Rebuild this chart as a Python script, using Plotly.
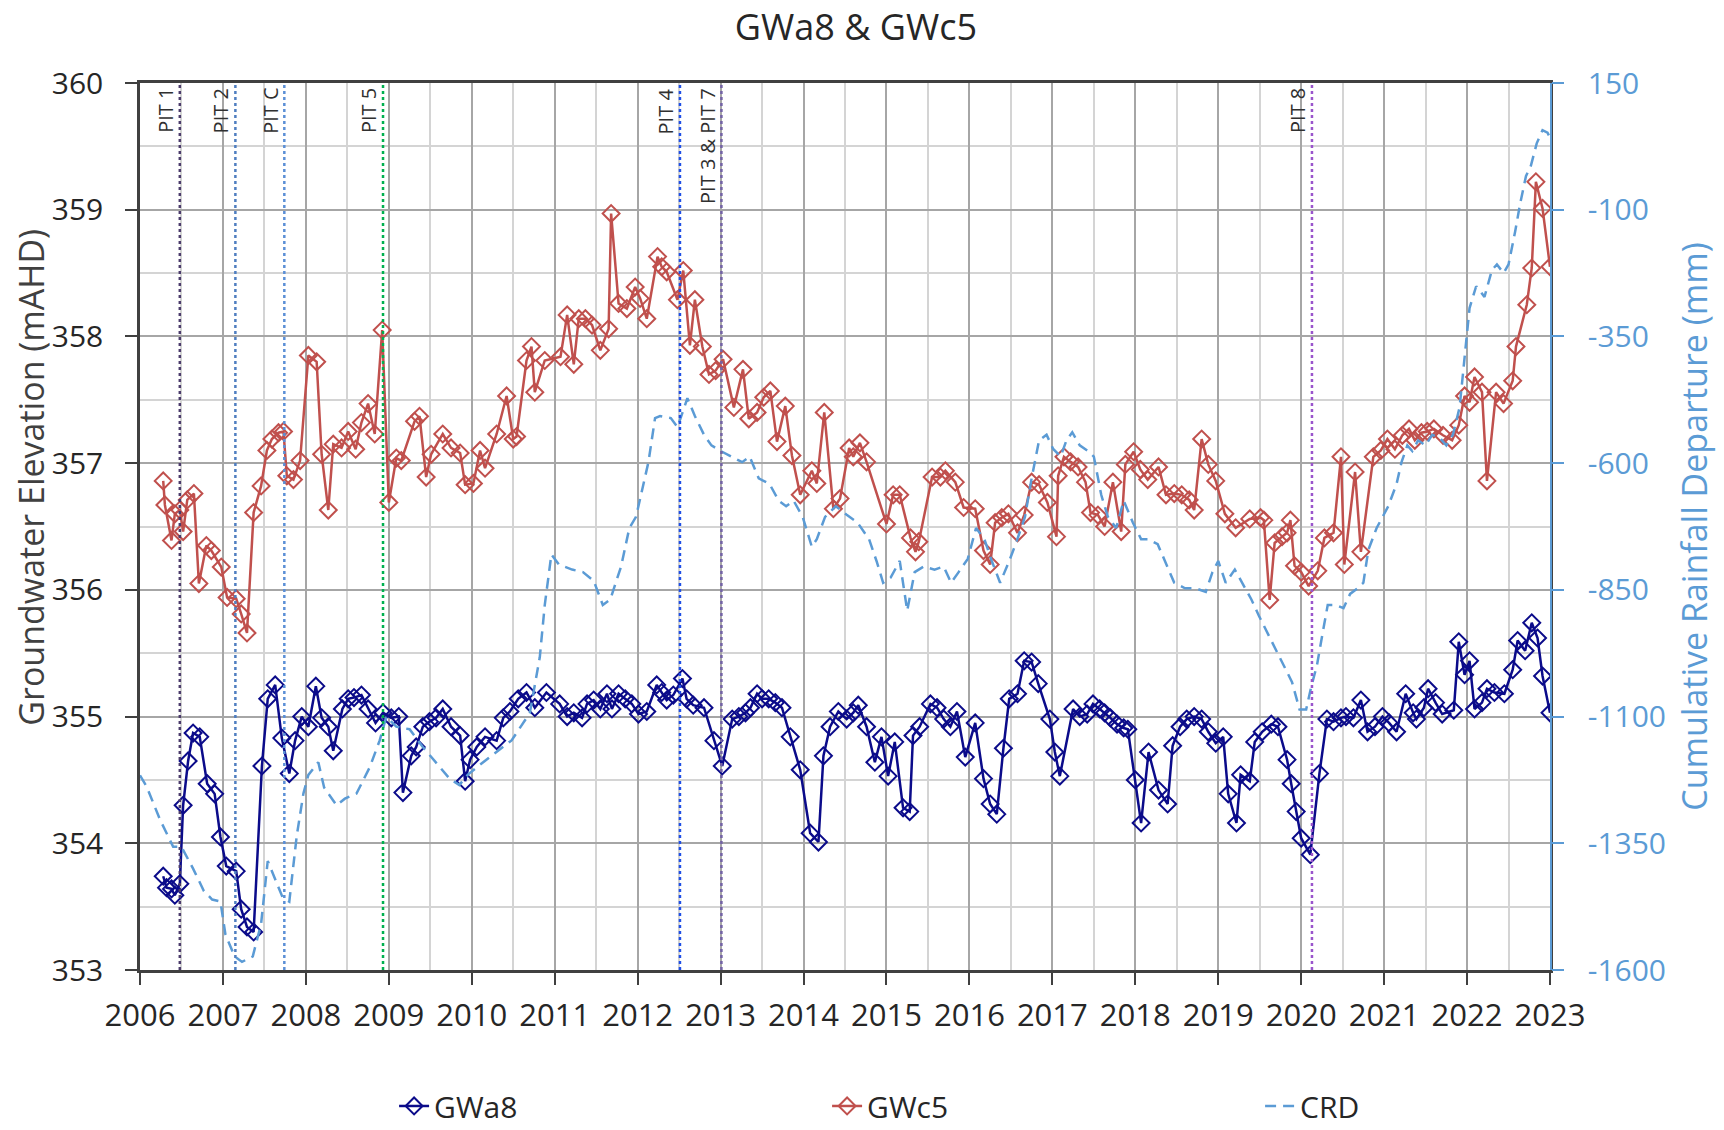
import plotly.graph_objects as go

# ---------------- data (decimal years) ----------------
gwa8_t = [2006.28, 2006.32, 2006.38, 2006.42, 2006.48, 2006.52, 2006.58, 2006.64, 2006.72, 2006.81,
          2006.90, 2006.97, 2007.04, 2007.16, 2007.22, 2007.29, 2007.37, 2007.47, 2007.54, 2007.63,
          2007.71, 2007.80, 2007.87, 2007.95, 2008.03, 2008.12, 2008.19, 2008.27, 2008.33, 2008.44,
          2008.51, 2008.58, 2008.67, 2008.75, 2008.84, 2008.93, 2009.03, 2009.12, 2009.17, 2009.27,
          2009.33, 2009.41, 2009.49, 2009.57, 2009.65, 2009.75, 2009.86, 2009.92, 2009.98, 2010.06,
          2010.16, 2010.30, 2010.38, 2010.46, 2010.56, 2010.66, 2010.76, 2010.90, 2011.06, 2011.15,
          2011.23, 2011.33, 2011.39, 2011.47, 2011.55, 2011.63, 2011.69, 2011.77, 2011.85, 2011.93,
          2012.01, 2012.11, 2012.23, 2012.29, 2012.35, 2012.43, 2012.54, 2012.59, 2012.67, 2012.80,
          2012.92, 2013.02, 2013.14, 2013.22, 2013.30, 2013.36, 2013.44, 2013.50, 2013.58, 2013.66,
          2013.74, 2013.84, 2013.96, 2014.08, 2014.18, 2014.24, 2014.32, 2014.42, 2014.52, 2014.60,
          2014.66, 2014.76, 2014.86, 2014.94, 2015.02, 2015.10, 2015.20, 2015.28, 2015.32, 2015.40,
          2015.53, 2015.61, 2015.69, 2015.77, 2015.85, 2015.95, 2016.07, 2016.17, 2016.25, 2016.33,
          2016.41, 2016.48, 2016.58, 2016.66, 2016.75, 2016.83, 2016.97, 2017.03, 2017.09, 2017.25,
          2017.33, 2017.42, 2017.49, 2017.57, 2017.63, 2017.70, 2017.78, 2017.86, 2017.91, 2018.00,
          2018.07, 2018.16, 2018.28, 2018.39, 2018.45, 2018.54, 2018.62, 2018.71, 2018.80, 2018.88,
          2018.97, 2019.06, 2019.12, 2019.22, 2019.27, 2019.38, 2019.44, 2019.53, 2019.64, 2019.72,
          2019.83, 2019.88, 2019.94, 2020.00, 2020.11, 2020.22, 2020.31, 2020.39, 2020.48, 2020.54,
          2020.63, 2020.72, 2020.80, 2020.89, 2020.98, 2021.06, 2021.15, 2021.26, 2021.35, 2021.39,
          2021.48, 2021.53, 2021.62, 2021.70, 2021.84, 2021.90, 2021.97, 2022.03, 2022.09, 2022.18,
          2022.24, 2022.33, 2022.45, 2022.55, 2022.61, 2022.70, 2022.78, 2022.85, 2022.91, 2023.00]
gwa8_v = [353.74, 353.65, 353.64, 353.59, 353.68, 354.30, 354.65, 354.87, 354.84, 354.47,
          354.39, 354.05, 353.82, 353.78, 353.48, 353.34, 353.30, 354.61, 355.14, 355.25,
          354.83, 354.55, 354.81, 355.00, 354.92, 355.24, 354.99, 354.92, 354.73, 355.06,
          355.14, 355.15, 355.17, 355.06, 354.95, 355.03, 354.99, 355.00, 354.40, 354.69,
          354.76, 354.92, 354.96, 354.99, 355.06, 354.92, 354.85, 354.49, 354.66, 354.76,
          354.84, 354.81, 354.99, 355.04, 355.14, 355.19, 355.07, 355.19, 355.10, 355.00,
          355.03, 354.99, 355.10, 355.13, 355.06, 355.18, 355.06, 355.18, 355.14, 355.10,
          355.02, 355.04, 355.25, 355.19, 355.13, 355.17, 355.30, 355.14, 355.09, 355.07,
          354.81, 354.61, 354.98, 355.00, 355.03, 355.07, 355.18, 355.14, 355.14, 355.11,
          355.07, 354.84, 354.58, 354.08, 354.01, 354.69, 354.92, 355.04, 354.98, 355.03,
          355.09, 354.92, 354.64, 354.84, 354.53, 354.80, 354.28, 354.25, 354.85, 354.92,
          355.10, 355.07, 354.98, 354.92, 355.04, 354.68, 354.95, 354.51, 354.31, 354.23,
          354.75, 355.14, 355.18, 355.44, 355.43, 355.26, 354.98, 354.72, 354.53, 355.06,
          355.00, 355.02, 355.10, 355.06, 355.03, 354.99, 354.94, 354.91, 354.90, 354.50,
          354.16, 354.72, 354.42, 354.31, 354.77, 354.92, 354.98, 355.00, 354.98, 354.88,
          354.79, 354.84, 354.39, 354.16, 354.54, 354.49, 354.80, 354.88, 354.94, 354.92,
          354.66, 354.47, 354.25, 354.04, 353.91, 354.55, 354.98, 354.96, 354.99, 355.00,
          354.99, 355.13, 354.88, 354.92, 355.00, 354.95, 354.88, 355.18, 355.03, 354.98,
          355.07, 355.22, 355.11, 355.02, 355.05, 355.59, 355.33, 355.44, 355.06, 355.11,
          355.22, 355.19, 355.18, 355.37, 355.60, 355.52, 355.74, 355.62, 355.32, 355.03]

gwc5_t = [2006.28, 2006.30, 2006.38, 2006.42, 2006.48, 2006.52, 2006.57, 2006.65, 2006.71, 2006.80,
          2006.86, 2006.98, 2007.05, 2007.16, 2007.22, 2007.29, 2007.37, 2007.46, 2007.53, 2007.59,
          2007.67, 2007.73, 2007.77, 2007.85, 2007.93, 2008.03, 2008.13, 2008.19, 2008.27, 2008.33,
          2008.43, 2008.51, 2008.60, 2008.67, 2008.75, 2008.83, 2008.92, 2009.00, 2009.09, 2009.15,
          2009.31, 2009.37, 2009.45, 2009.51, 2009.65, 2009.75, 2009.86, 2009.92, 2010.02, 2010.10,
          2010.16, 2010.30, 2010.42, 2010.50, 2010.54, 2010.66, 2010.72, 2010.76, 2010.88, 2011.07,
          2011.15, 2011.23, 2011.29, 2011.37, 2011.45, 2011.55, 2011.65, 2011.68, 2011.77, 2011.87,
          2011.97, 2012.03, 2012.11, 2012.24, 2012.29, 2012.35, 2012.48, 2012.55, 2012.63, 2012.69,
          2012.78, 2012.86, 2012.94, 2013.03, 2013.16, 2013.27, 2013.34, 2013.44, 2013.52, 2013.60,
          2013.68, 2013.78, 2013.86, 2013.96, 2014.10, 2014.16, 2014.25, 2014.36, 2014.44, 2014.55,
          2014.60, 2014.68, 2014.76, 2015.00, 2015.08, 2015.16, 2015.29, 2015.35, 2015.39, 2015.55,
          2015.65, 2015.71, 2015.83, 2015.93, 2016.07, 2016.17, 2016.25, 2016.31, 2016.39, 2016.47,
          2016.58, 2016.66, 2016.75, 2016.84, 2016.94, 2017.05, 2017.07, 2017.14, 2017.22, 2017.31,
          2017.40, 2017.46, 2017.55, 2017.63, 2017.73, 2017.83, 2017.88, 2017.98, 2018.06, 2018.15,
          2018.28, 2018.37, 2018.47, 2018.56, 2018.65, 2018.71, 2018.80, 2018.88, 2018.97, 2019.08,
          2019.21, 2019.38, 2019.51, 2019.55, 2019.62, 2019.68, 2019.77, 2019.83, 2019.87, 2019.92,
          2020.00, 2020.09, 2020.20, 2020.28, 2020.39, 2020.48, 2020.52, 2020.65, 2020.72, 2020.87,
          2020.96, 2021.04, 2021.13, 2021.22, 2021.30, 2021.37, 2021.45, 2021.52, 2021.60, 2021.71,
          2021.82, 2021.90, 2021.97, 2022.03, 2022.09, 2022.18, 2022.24, 2022.35, 2022.44, 2022.55,
          2022.59, 2022.72, 2022.78, 2022.83, 2022.91, 2023.00]
gwc5_v = [356.86, 356.67, 356.39, 356.60, 356.63, 356.46, 356.71, 356.76, 356.05, 356.35,
          356.31, 356.18, 355.94, 355.93, 355.81, 355.66, 356.61, 356.82, 357.10, 357.19,
          357.24, 357.25, 356.90, 356.87, 357.02, 357.85, 357.80, 357.07, 356.63, 357.15,
          357.12, 357.25, 357.11, 357.32, 357.47, 357.23, 358.05, 356.69, 357.04, 357.02,
          357.33, 357.37, 356.89, 357.07, 357.23, 357.12, 357.08, 356.83, 356.84, 357.10,
          356.96, 357.23, 357.53, 357.19, 357.21, 357.81, 357.92, 357.56, 357.81, 357.84,
          358.17, 357.78, 358.14, 358.14, 358.09, 357.89, 358.06, 358.97, 358.26, 358.22,
          358.39, 358.30, 358.14, 358.63, 358.55, 358.51, 358.29, 358.52, 357.93, 358.29,
          357.92, 357.70, 357.73, 357.82, 357.44, 357.74, 357.35, 357.40, 357.52, 357.57,
          357.17, 357.45, 357.06, 356.75, 356.94, 356.84, 357.40, 356.64, 356.72, 357.12,
          357.05, 357.16, 357.01, 356.52, 356.75, 356.75, 356.41, 356.30, 356.38, 356.89,
          356.89, 356.94, 356.85, 356.65, 356.64, 356.31, 356.20, 356.53, 356.57, 356.60,
          356.45, 356.59, 356.85, 356.83, 356.69, 356.42, 356.90, 357.05, 357.01, 356.97,
          356.85, 356.61, 356.59, 356.50, 356.85, 356.46, 356.99, 357.09, 356.95, 356.87,
          356.97, 356.75, 356.76, 356.75, 356.71, 356.63, 357.19, 356.99, 356.86, 356.60,
          356.49, 356.56, 356.57, 356.55, 355.92, 356.37, 356.42, 356.45, 356.55, 356.19,
          356.14, 356.03, 356.15, 356.41, 356.45, 357.05, 356.20, 356.93, 356.30, 357.05,
          357.10, 357.19, 357.11, 357.22, 357.27, 357.18, 357.24, 357.25, 357.27, 357.22,
          357.18, 357.30, 357.53, 357.48, 357.68, 357.56, 356.86, 357.56, 357.47, 357.65,
          357.92, 358.25, 358.54, 359.22, 359.01, 358.55]

crd_t = [2006.00, 2006.08, 2006.24, 2006.40, 2006.50, 2006.64, 2006.77, 2006.87, 2006.97, 2007.03,
         2007.14, 2007.23, 2007.36, 2007.46, 2007.54, 2007.63, 2007.72, 2007.80, 2007.89, 2007.97,
         2008.03, 2008.15, 2008.22, 2008.37, 2008.47, 2008.61, 2008.77, 2008.89, 2008.97, 2009.09,
         2009.25, 2009.41, 2009.57, 2009.73, 2009.85, 2009.95, 2010.10, 2010.30, 2010.48, 2010.70,
         2010.82, 2010.88, 2010.96, 2011.05, 2011.21, 2011.34, 2011.47, 2011.58, 2011.67, 2011.80,
         2011.90, 2011.98, 2012.07, 2012.13, 2012.21, 2012.27, 2012.40, 2012.48, 2012.60, 2012.69,
         2012.80, 2012.89, 2013.00, 2013.13, 2013.26, 2013.35, 2013.46, 2013.59, 2013.70, 2013.79,
         2013.88, 2013.99, 2014.10, 2014.16, 2014.26, 2014.39, 2014.52, 2014.65, 2014.79, 2014.88,
         2014.96, 2015.05, 2015.16, 2015.25, 2015.34, 2015.45, 2015.58, 2015.69, 2015.78, 2015.87,
         2015.98, 2016.08, 2016.18, 2016.27, 2016.37, 2016.48, 2016.57, 2016.67, 2016.75, 2016.84,
         2016.93, 2017.01, 2017.10, 2017.17, 2017.24, 2017.33, 2017.43, 2017.50, 2017.59, 2017.67,
         2017.77, 2017.86, 2017.97, 2018.07, 2018.16, 2018.27, 2018.36, 2018.47, 2018.60, 2018.73,
         2018.85, 2018.93, 2019.00, 2019.09, 2019.20, 2019.29, 2019.40, 2019.49, 2019.59, 2019.69,
         2019.79, 2019.89, 2019.98, 2020.06, 2020.12, 2020.19, 2020.26, 2020.32, 2020.42, 2020.51,
         2020.59, 2020.68, 2020.75, 2020.81, 2020.91, 2020.99, 2021.05, 2021.15, 2021.21, 2021.28,
         2021.34, 2021.41, 2021.50, 2021.58, 2021.67, 2021.75, 2021.83, 2021.91, 2021.98, 2022.03,
         2022.11, 2022.21, 2022.30, 2022.36, 2022.44, 2022.50, 2022.58, 2022.64, 2022.71, 2022.77,
         2022.84, 2022.91, 2022.97, 2023.00]
crd_v = [-1216, -1238, -1303, -1357, -1357, -1400, -1444, -1461, -1465, -1530,
         -1573, -1584, -1573, -1509, -1385, -1422, -1457, -1465, -1335, -1252,
         -1215, -1190, -1240, -1275, -1262, -1252, -1200, -1147, -1100, -1120,
         -1125, -1160, -1190, -1222, -1235, -1215, -1195, -1170, -1147, -1093,
         -983, -880, -780, -800, -810, -815, -832, -880, -869, -804,
         -728, -706, -641, -598, -511, -507, -511, -529, -472, -507,
         -544, -565, -576, -587, -598, -587, -630, -641, -674, -685,
         -674, -706, -765, -750, -706, -685, -702, -717, -750, -793,
         -836, -826, -793, -891, -815, -804, -810, -804, -836, -815,
         -789, -728, -750, -793, -836, -793, -754, -706, -630, -555,
         -544, -572, -587, -555, -539, -565, -576, -587, -663, -706,
         -728, -674, -717, -750, -750, -760, -793, -836, -847, -847,
         -854, -815, -793, -836, -810, -836, -869, -901, -934, -966,
         -999, -1032, -1086, -1086, -1042, -999, -934, -880, -880, -886,
         -858, -847, -836, -771, -728, -702, -685, -641, -598, -565,
         -576, -555, -565, -544, -550, -565, -544, -490, -381, -294,
         -251, -272, -219, -208, -225, -208, -143, -88, -34, -13,
         31, 57, 52, 42]

pit_labels = ["PIT 1", "PIT 2", "PIT C", "PIT 5", "PIT 4", "PIT 3 & PIT 7", "PIT 8"]
pit_dates = [2006.48, 2007.15, 2007.74, 2008.93, 2012.51, 2013.01, 2020.13]
pit_colors = ["#4b3b6b", "#4f7ec0", "#5b8fd6", "#00b050", "#1f4fe6", "#7463a6", "#9a55cc"]

x_ticks = list(range(2006, 2024))
y_ticks = [353, 354, 355, 356, 357, 358, 359, 360]
y2_ticks = [150, -100, -350, -600, -850, -1100, -1350, -1600]

FONT = "Open Sans"
GRID_MAJ = "#a6a6a6"
GRID_MIN = "#d4d4d4"
AX = "#404040"
BLUE = "#5b9bd5"

fig = go.Figure()
fig.add_trace(go.Scatter(x=gwa8_t, y=gwa8_v, name="GWa8", mode="lines+markers",
                         line=dict(color="#0b0b8a", width=2.5),
                         marker=dict(symbol="diamond-open", size=13, color="#0b0b8a",
                                     line=dict(width=2, color="#0b0b8a"))))
fig.add_trace(go.Scatter(x=gwc5_t, y=gwc5_v, name="GWc5", mode="lines+markers",
                         line=dict(color="#c0504d", width=2.5),
                         marker=dict(symbol="diamond-open", size=13, color="#c0504d",
                                     line=dict(width=2, color="#c0504d"))))
fig.add_trace(go.Scatter(x=crd_t, y=crd_v, name="CRD", mode="lines", yaxis="y2",
                         line=dict(color=BLUE, width=2.5, dash="11px,7px")))

for lab, d, c in zip(pit_labels, pit_dates, pit_colors):
    fig.add_shape(type="line", xref="x", yref="paper", x0=d, x1=d, y0=0, y1=1,
                  line=dict(color=c, width=2.5, dash="dot"), layer="above")
    fig.add_annotation(x=d, xref="x", y=1, yref="paper", text=lab, textangle=-90,
                       showarrow=False, xanchor="right", yanchor="top", yshift=-3, xshift=1,
                       font=dict(family=FONT, size=20, color="#303030"))

# left axis title (placed slightly above the plot centre as in the reference)
fig.add_annotation(x=0, xref="paper", xshift=-109, xanchor="center",
                   y=0.555, yref="paper", yanchor="middle", textangle=-90, showarrow=False,
                   text="Groundwater Elevation (mAHD)",
                   font=dict(family=FONT, size=34, color="#404040"))

fig.update_layout(
    width=1724, height=1130,
    margin=dict(l=140, r=174, t=83, b=160, autoexpand=False),
    paper_bgcolor="white", plot_bgcolor="white",
    font=dict(family=FONT, color=AX),
    title=dict(text="GWa8 & GWc5", x=0.4965, xref="container", xanchor="center",
               y=0.9761, yref="container", yanchor="middle",
               font=dict(family=FONT, size=36, color="#262626")),
    xaxis=dict(range=[2006, 2023], tickvals=x_ticks, ticktext=[str(v) for v in x_ticks],
               showgrid=True, gridcolor=GRID_MAJ, gridwidth=1.5,
               minor=dict(dtick=0.5, tick0=2006, showgrid=True, gridcolor=GRID_MIN, gridwidth=1.5),
               ticks="outside", ticklen=12, tickwidth=2, tickcolor=AX,
               showline=True, linecolor=AX, linewidth=2.5, mirror=True, zeroline=False,
               tickfont=dict(family=FONT, size=31, color="#262626"), ticklabelstandoff=4),
    yaxis=dict(range=[353, 360], tickvals=y_ticks, showgrid=True, gridcolor=GRID_MAJ, gridwidth=1.5,
               minor=dict(dtick=0.5, tick0=353, showgrid=True, gridcolor=GRID_MIN, gridwidth=1.5),
               ticks="outside", ticklen=12, tickwidth=2, tickcolor=AX,
               showline=True, linecolor=AX, linewidth=2.5, mirror=True, zeroline=False,
               tickfont=dict(family=FONT, size=30, color="#262626"), ticklabelstandoff=16),
    yaxis2=dict(range=[-1600, 150], tickvals=y2_ticks, ticktext=[str(v) for v in y2_ticks],
                overlaying="y", side="right",
                showgrid=False, zeroline=False, ticks="outside", ticklen=12, tickwidth=2,
                tickcolor=BLUE, showline=True, linecolor=BLUE, linewidth=1.5,
                tickfont=dict(family=FONT, size=30, color=BLUE), ticklabelstandoff=18,
                title=dict(text="Cumulative Rainfall Departure (mm)", standoff=18,
                           font=dict(family=FONT, size=34, color=BLUE))),
    legend=dict(orientation="h", x=0.1802, y=-0.1533, xanchor="left", yanchor="middle",
                entrywidth=388, entrywidthmode="pixels",
                font=dict(family=FONT, size=30, color="#262626"), bgcolor="rgba(0,0,0,0)"),
    showlegend=True,
)

fig.write_html("out.html", config={"displayModeBar": False},
               post_script="document.body.style.margin='0';")
